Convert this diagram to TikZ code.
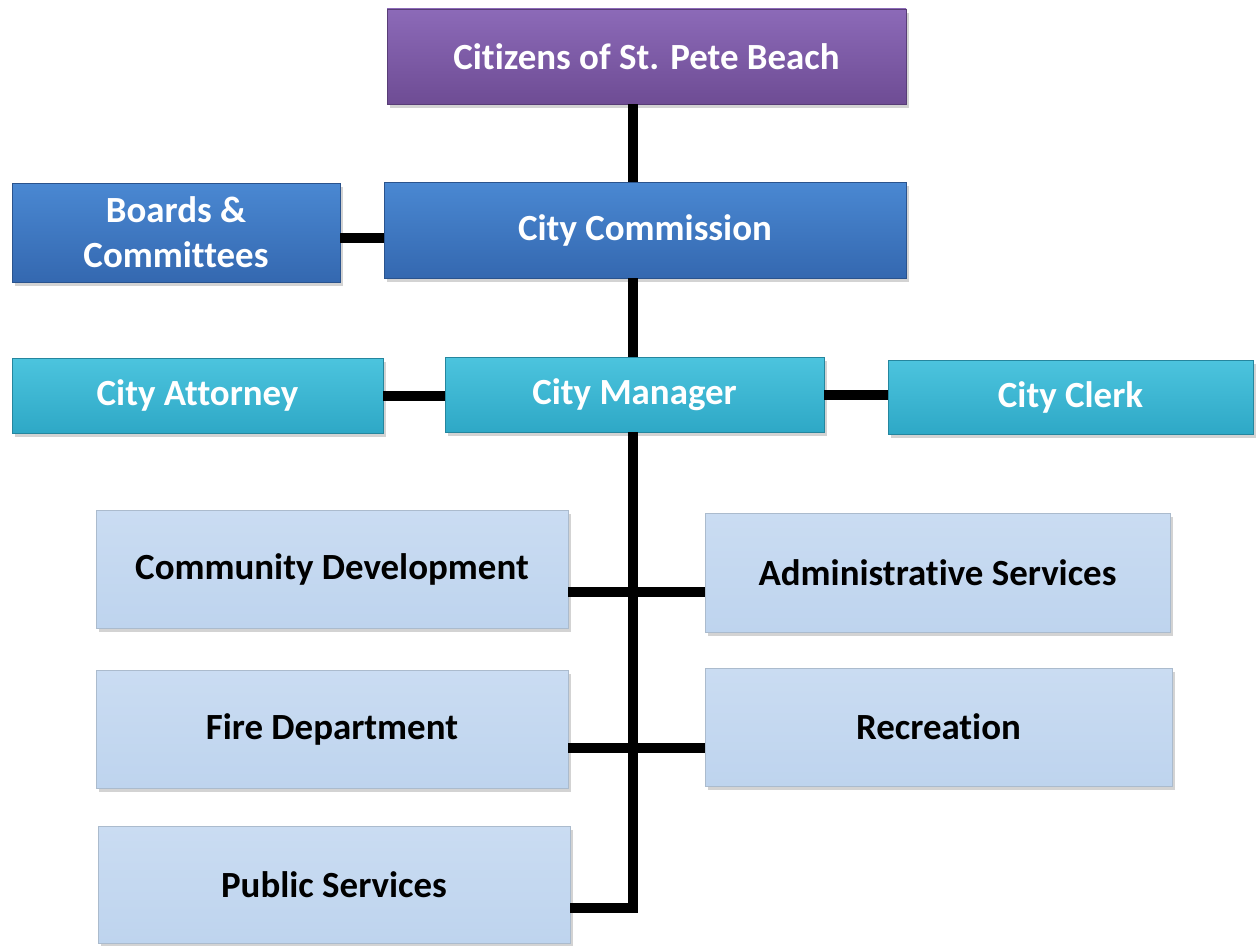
\documentclass[tikz,border=0pt]{standalone}
\usepackage{fontspec}
\setmainfont[Ligatures=NoCommon]{Carlito}
\usetikzlibrary{shadows}

\definecolor{citizensTop}{HTML}{8C6AB8}
\definecolor{citizensBot}{HTML}{6E4C94}
\definecolor{commTop}{HTML}{4A88D2}
\definecolor{commBot}{HTML}{3468B0}
\definecolor{mgrTop}{HTML}{4CC4DE}
\definecolor{mgrBot}{HTML}{2EA8C6}
\definecolor{deptTop}{HTML}{CADCF2}
\definecolor{deptBot}{HTML}{BED4EE}

\begin{document}
\begin{tikzpicture}[x=0.02cm, y=-0.02cm,
    every node/.style={font=\bfseries\fontsize{21}{25.6}\selectfont, align=center, inner sep=0pt,
        drop shadow={shadow xshift=0.6mm, shadow yshift=-0.8mm, opacity=0.35}},
    box/.style 2 args={rectangle, minimum width=#1*0.02cm, minimum height=#2*0.02cm},
    topbox/.style={draw=citizensBot!80!black, top color=citizensTop, bottom color=citizensBot, text=white},
    commbox/.style={draw=commBot!80!black, top color=commTop, bottom color=commBot, text=white},
    mgrbox/.style={draw=mgrBot!80!black, top color=mgrTop, bottom color=mgrBot, text=white},
    deptbox/.style={draw=deptBot!70!gray, top color=deptTop, bottom color=deptBot, text=black},
    link/.style={line width=0.2cm}]

    \useasboundingbox (0,0) rectangle (1257,946);

    % top levels
    \node[topbox, box={519}{95}] (citizens) at (646.5,56.5) {Citizens of St. Pete Beach};
    \node[commbox, box={328}{99}] (boards) at (176,232.5) {Boards \&\\Committees};
    \node[commbox, box={522}{96}] (commission) at (645,230) {City Commission};

    \node[mgrbox, box={371}{75}] (attorney) at (197.5,395.5) {City Attorney};
    \node[mgrbox, box={379}{75}] (manager) at (634.5,394.5) {City Manager};
    \node[mgrbox, box={365}{74}] (clerk) at (1070.5,397) {City Clerk};

    % departments
    \node[deptbox, box={472}{118}] (commdev) at (332,569) {Community Development};
    \node[deptbox, box={465}{119}] (admin) at (937.5,572.5) {Administrative Services};
    \node[deptbox, box={472}{118}] (fire) at (332,729) {Fire Department};
    \node[deptbox, box={467}{118}] (recreation) at (938.5,727) {Recreation};
    \node[deptbox, box={472}{117}] (public) at (334,884.5) {Public Services};

    \coordinate (spine) at (633,0);

    % connectors
    \draw[link] (citizens.south -| spine) -- (commission.north -| spine);
    \draw[link] (commission.south -| spine) -- (manager.north -| spine);
    \draw[link] ([yshift=-5.5*0.02cm]boards.east) coordinate (b1) -- (b1 -| commission.west);
    \draw[link] (attorney.east) -- (attorney.east -| manager.west);
    \draw[link] (manager.east) coordinate (m1) -- (m1 -| clerk.west);
    \draw[link] (manager.south -| spine) |- ([yshift=-23.5*0.02cm]public.east);
    \draw[link] ([yshift=-23*0.02cm]commdev.east) coordinate (r1) -- (r1 -| admin.west);
    \draw[link] ([yshift=-19*0.02cm]fire.east) coordinate (r2) -- (r2 -| recreation.west);
\end{tikzpicture}
\end{document}
